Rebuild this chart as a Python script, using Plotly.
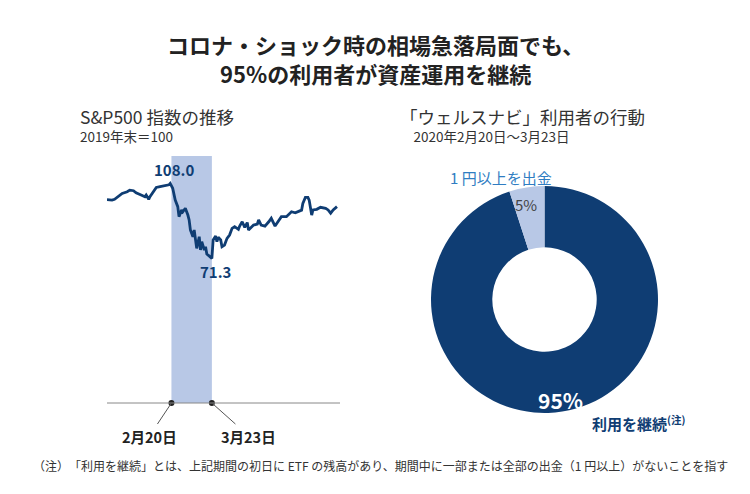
import plotly.graph_objects as go

W, H = 750, 494

# S&P500 index (2019 year-end = 100), days since 2019-12-31
days = [0, 4, 6, 9, 12, 16, 18, 21, 23, 27, 30, 31, 33, 34, 37, 38, 39, 42, 44, 47, 49, 50,
        52, 54, 56, 57, 59, 60, 62, 64, 65, 66, 68, 69, 70, 71, 73, 74, 75, 77, 78, 79, 81, 83,
        84, 86, 87, 88, 90, 91, 93, 95, 97, 99, 101, 104, 105, 107, 109, 111, 112, 114, 116,
        119, 120, 122, 125, 128, 130, 133, 136, 138, 142, 146, 149, 152, 154, 155, 157, 159,
        160, 162, 163, 166, 169, 173, 175, 177, 179, 182]
values = [100.0, 99.8, 100.2, 101.6, 103.1, 103.9, 104.7, 104.4, 103.4, 102.3, 101.5, 102.3,
          100.2, 101.5, 103.9, 104.7, 106.0, 106.4, 106.7, 107.2, 107.3, 108.0,
          105.6, 99.8, 96.6, 91.7, 95.0, 94.1, 95.8, 92.5, 90.1, 85.2, 81.9, 85.2, 81.1,
          76.2, 81.9, 75.4, 79.5, 75.4, 77.0, 73.4, 72.4, 71.3,
          80.3, 82.2, 79.5, 81.6, 80.3, 77.0, 77.8, 81.1, 82.7, 86.0, 86.8, 85.5, 87.1, 89.2,
          86.5, 88.8, 85.2, 86.5, 87.6, 88.1, 90.1, 87.6, 87.1, 89.2, 90.9, 87.1, 89.9, 91.7,
          91.7, 94.1, 93.6, 94.6, 94.9, 98.2, 101.1, 101.1, 99.8, 92.5, 95.0, 95.3, 96.3,
          95.8, 95.0, 93.4, 95.0, 96.6]
band_start, band_end = 51, 83          # 2/20 and 3/23
band_labels = ["2月20日", "3月23日"]
peak_day, peak_val = 50, 108.0
trough_day, trough_val = 83, 71.3

# Donut
pie_labels = ["利用を継続", "1円以上を出金"]
pie_values = [95, 5]

NAVY = "#0f3d73"
LIGHT = "#b8c8e6"
BLUE_TXT = "#2f7dc2"
DARK = "#222222"

def px(x):
    return x / W

def py(y):
    return 1 - y / H

fig = go.Figure()

fig.add_trace(go.Scatter(
    x=days, y=values, mode="lines",
    line=dict(color=NAVY, width=2.8, shape="linear"),
    xaxis="x", yaxis="y", hoverinfo="skip", showlegend=False))

Y0, Y1 = 0.5, 121.4
fig.add_trace(go.Scatter(
    x=[band_start, band_end], y=[Y0, Y0], mode="markers",
    marker=dict(color="#222222", size=6), cliponaxis=False,
    xaxis="x", yaxis="y", hoverinfo="skip", showlegend=False))

fig.add_trace(go.Pie(
    values=pie_values, labels=pie_labels, hole=0.46, sort=False,
    direction="clockwise", rotation=0,
    marker=dict(colors=[NAVY, LIGHT], line=dict(width=0)),
    textinfo="none", hoverinfo="skip", showlegend=False,
    domain=dict(x=[px(431), px(658)], y=[py(413), py(186)])))

fig.add_shape(type="rect", xref="x", yref="y domain",
              x0=band_start, x1=band_end, y0=0, y1=1,
              fillcolor=LIGHT, line=dict(width=0), layer="below")

annotations = []
def ann(text, x, y, size, color=DARK, bold=False, xanchor="center", yanchor="middle", **kw):
    t = f"<b>{text}</b>" if bold else text
    d = dict(text=t, x=px(x), y=py(y), xref="paper", yref="paper",
             showarrow=False, xanchor=xanchor, yanchor=yanchor,
             font=dict(size=size, color=color))
    d.update(kw)
    annotations.append(d)

ann("コロナ・ショック時の相場急落局面でも、<br>95%の利用者が資産運用を継続", 375, 58, 22, bold=True)

ann("<span style='font-size:17.5px'>S&P500 指数の推移</span><br>2019年末＝100",
    78, 125, 13.5, color="#333333", xanchor="left", align="left")
ann("<span style='font-size:17.5px'>「ウェルスナビ」利用者の行動</span><br>　2020年2月20日～3月23日",
    398, 125, 13.5, color="#333333", xanchor="left", align="left")

# point labels
annotations.append(dict(text="<b>108.0</b>", x=peak_day, y=peak_val, xref="x", yref="y",
                        showarrow=False, yshift=14, xshift=4,
                        font=dict(size=15, color=NAVY)))
annotations.append(dict(text="<b>71.3</b>", x=trough_day, y=trough_val, xref="x", yref="y",
                        showarrow=False, yshift=-13, xshift=4,
                        font=dict(size=15, color=NAVY)))

# band date labels with leader lines
for d, lab, axo in [(band_start, band_labels[0], -22), (band_end, band_labels[1], 37)]:
    annotations.append(dict(text=f"<b>{lab}</b>", x=d, y=Y0, xref="x", yref="y",
                            showarrow=True, arrowhead=0, arrowwidth=1,
                            arrowcolor="#555555", ax=axo, ay=33,
                            font=dict(size=14.5, color=DARK)))

ann("1 円以上を出金", 501, 177, 15, color=BLUE_TXT)
ann("5%", 526, 204, 15, color="#444444")
ann("95%", 560, 400, 21, color="white", bold=True)
ann("利用を継続<sup>(注)</sup>", 590, 423, 15, color=NAVY, bold=True, xanchor="left")

ann("（注）　「利用を継続」とは、上記期間の初日に ETF の残高があり、期間中に一部または全部の出金（1 円以上）がないことを指す",
    380, 465, 12, color="#333333")

fig.update_layout(
    width=W, height=H,
    margin=dict(l=0, r=0, t=0, b=0),
    paper_bgcolor="white", plot_bgcolor="white",
    font=dict(family="Noto Sans CJK JP, Noto Sans, sans-serif", color=DARK),
    xaxis=dict(domain=[px(107), px(340)], range=[0, 184.4],
               showgrid=False, zeroline=False, showticklabels=False, ticks="",
               showline=False),
    yaxis=dict(domain=[py(403), py(156)], range=[Y0, Y1],
               showgrid=False, zeroline=False, showticklabels=False, ticks="",
               showline=False),
    annotations=annotations,
)

fig.add_shape(type="line", xref="x domain", yref="y domain",
              x0=0, x1=1, y0=0, y1=0, line=dict(color="#888888", width=1))

fig.write_html("out.html")
